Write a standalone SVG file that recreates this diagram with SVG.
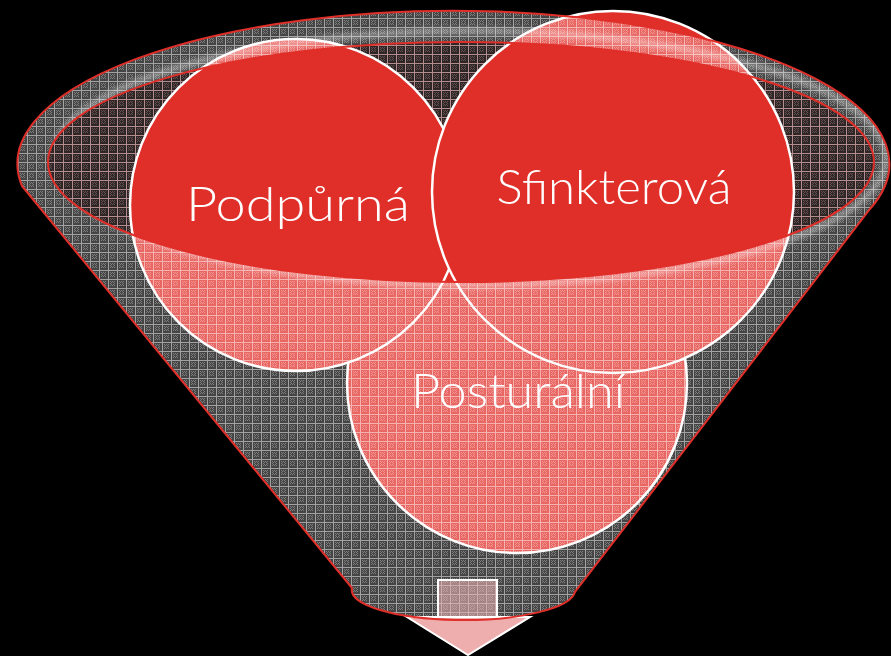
<svg xmlns="http://www.w3.org/2000/svg" width="891" height="656" viewBox="0 0 891 656">
  <defs>
    <pattern id="pOver" width="9" height="9" patternUnits="userSpaceOnUse">
      <rect width="9" height="9" fill="#fff" fill-opacity="0.27"/>
      <g fill="#fff" fill-opacity="0.3">
        <rect x="2" y="2" width="1" height="1"/><rect x="4" y="2" width="1" height="1"/><rect x="6" y="2" width="1" height="1"/>
        <rect x="3" y="3" width="1" height="1"/><rect x="5" y="3" width="1" height="1"/>
        <rect x="2" y="4" width="1" height="1"/><rect x="6" y="4" width="1" height="1"/>
        <rect x="3" y="5" width="1" height="1"/><rect x="5" y="5" width="1" height="1"/>
        <rect x="2" y="6" width="1" height="1"/><rect x="4" y="6" width="1" height="1"/><rect x="6" y="6" width="1" height="1"/>
      </g>
      <rect x="0" y="0" width="9" height="1" fill="#fff" fill-opacity="0.5"/>
      <rect x="0" y="1" width="1" height="8" fill="#fff" fill-opacity="0.5"/>
    </pattern>
    <pattern id="pDark" width="9" height="9" patternUnits="userSpaceOnUse">
      <rect width="9" height="9" fill="#2e2526"/>
      <g fill="#65504f">
        <rect x="2" y="2" width="1" height="1"/><rect x="4" y="2" width="1" height="1"/><rect x="6" y="2" width="1" height="1"/>
        <rect x="3" y="3" width="1" height="1"/><rect x="5" y="3" width="1" height="1"/>
        <rect x="2" y="4" width="1" height="1"/><rect x="6" y="4" width="1" height="1"/>
        <rect x="3" y="5" width="1" height="1"/><rect x="5" y="5" width="1" height="1"/>
        <rect x="2" y="6" width="1" height="1"/><rect x="4" y="6" width="1" height="1"/><rect x="6" y="6" width="1" height="1"/>
      </g>
      <rect x="0" y="0" width="9" height="1" fill="#b48d8e"/>
      <rect x="0" y="1" width="1" height="8" fill="#b48d8e"/>
    </pattern>
    <clipPath id="rim">
      <path clip-rule="evenodd" d="M 22 186 L 352 588 A 111.5 30 0 0 0 575 592 L 870 209 A 436 153 0 1 0 22 186 Z M 48 162 A 413 120 0 1 0 874 162 A 413 120 0 1 0 48 162 Z"/>
    </clipPath>
    <filter id="blur" x="-10%" y="-10%" width="120%" height="120%">
      <feGaussianBlur stdDeviation="2.5"/>
    </filter>
    <style>
      .circ { stroke: #ffffff; stroke-width: 2.5; }
      .red { fill: #e02e29; }
      .lbl { font-family: Lato, "Open Sans", "Liberation Sans", sans-serif; font-size: 48px; font-weight: 300; fill: #ffffff; text-anchor: middle; }
      .outline { fill: none; stroke: #e02e29; stroke-width: 2; }
    </style>
  </defs>
  <rect width="891" height="656" fill="#000000"/>

  <g id="funnel-base">
    <path d="M 48 162 A 413 120 0 1 0 874 162 A 413 120 0 1 0 48 162 Z" fill="url(#pDark)"/>
  </g>

  <g id="node-posturalni">
    <circle class="circ red" cx="517" cy="383" r="170"/>
  </g>
  <g id="node-podpurna">
    <circle class="circ red" cx="296" cy="205" r="166"/>
  </g>
  <g id="node-sfinkterova">
    <circle class="circ red" cx="613" cy="192" r="181"/>
  </g>

  <g id="funnel-overlay">
    <path fill-rule="evenodd" fill="url(#pOver)" d="M 22 186 L 352 588 A 111.5 30 0 0 0 575 592 L 870 209 A 436 153 0 1 0 22 186 Z M 48 162 A 413 120 0 1 0 874 162 A 413 120 0 1 0 48 162 Z"/>
    <g clip-path="url(#rim)">
      <ellipse cx="470" cy="158" rx="416" ry="127" fill="none" stroke="#ffffff" stroke-opacity="0.35" stroke-width="7" filter="url(#blur)"/>
    </g>
  </g>

  <g id="output-box">
    <rect x="438" y="580" width="59" height="40" fill="#f3b8b8" fill-opacity="0.55" stroke="#ffffff" stroke-width="2"/>
  </g>
  <g id="output-arrow">
    <polygon points="407,617 530,617 468,655" fill="#eeaeae" stroke="#ffffff" stroke-width="2"/>
  </g>

  <g id="funnel-outline">
    <path class="outline" d="M 22 186 L 352 588 A 111.5 30 0 0 0 575 592 L 870 209 A 436 153 0 1 0 22 186 Z"/>
    <path class="outline" d="M 48 162 A 413 120 0 1 0 874 162 A 413 120 0 1 0 48 162 Z"/>
  </g>

  <g id="labels">
    <text class="lbl" x="298" y="221" textLength="224" lengthAdjust="spacingAndGlyphs">Podpůrná</text>
    <text class="lbl" x="614" y="204" textLength="235" lengthAdjust="spacingAndGlyphs">Sfinkterová</text>
    <text class="lbl" x="518" y="408" textLength="214" lengthAdjust="spacingAndGlyphs">Posturální</text>
  </g>
</svg>
